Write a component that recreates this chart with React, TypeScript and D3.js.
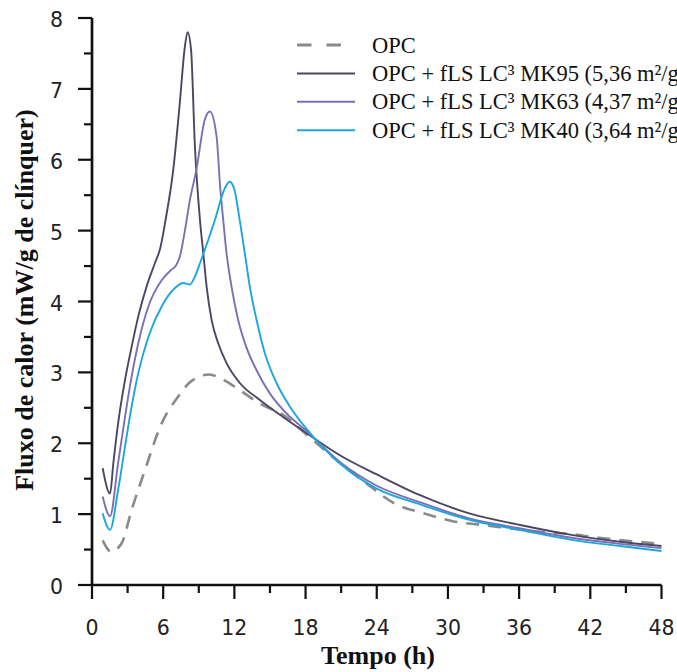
import React from "react";
import { scaleLinear, line, curveMonotoneX, range } from "d3";

// [time (h), heat flow (mW/g clinker)]
const opc = [
  [0.9, 0.63], [1.6, 0.47], [2.5, 0.59], [3.34, 1.06], [4.46, 1.62], [5.87, 2.28], [7.27, 2.66],
  [8.4, 2.88], [9.9, 2.97], [10.78, 2.92], [12.18, 2.78], [14.15, 2.56], [16.1, 2.4], [18.1, 2.12],
  [20.9, 1.72], [23, 1.45], [25.4, 1.16], [28.2, 1.0], [30.4, 0.9], [32.7, 0.85], [35.2, 0.8],
  [37.7, 0.75], [40.3, 0.72], [42.5, 0.67], [44.7, 0.63], [48, 0.58],
];
const mk95 = [
  [0.9, 1.65], [1.52, 1.29], [1.8, 1.72], [2.2, 2.28], [2.78, 2.89], [3.34, 3.36], [3.9, 3.79],
  [4.6, 4.21], [5.3, 4.54], [5.75, 4.75], [6.2, 5.15], [6.85, 5.86], [7.4, 6.8], [7.83, 7.6],
  [8.06, 7.8], [8.35, 7.55], [8.67, 6.2], [9.1, 5.15], [9.38, 4.68], [9.66, 4.21], [10.08, 3.74],
  [10.64, 3.41], [11.34, 3.13], [12.46, 2.85], [14.15, 2.61], [16.1, 2.37], [18.1, 2.14], [21, 1.82],
  [24, 1.56], [27.6, 1.27], [31.8, 1.01], [36, 0.85], [40.3, 0.71], [44.5, 0.61], [48, 0.55],
];
const mk63 = [
  [0.9, 1.25], [1.52, 0.97], [2.2, 1.72], [2.78, 2.37], [3.34, 2.94], [3.9, 3.41], [4.75, 3.93],
  [5.87, 4.3], [6.7, 4.45], [7.05, 4.5], [7.4, 4.63], [7.83, 5.0], [8.25, 5.43], [8.8, 5.86],
  [9.5, 6.56], [9.94, 6.68], [10.5, 6.33], [10.8, 5.62], [11.06, 5.15], [11.34, 4.68], [11.76, 4.21],
  [12.32, 3.74], [13.0, 3.36], [13.87, 3.03], [15.0, 2.7], [16.4, 2.42], [18.1, 2.17], [21, 1.72],
  [24, 1.4], [27.6, 1.17], [31.8, 0.94], [36, 0.8], [40.3, 0.67], [44.5, 0.58], [48, 0.52],
];
const mk40 = [
  [0.9, 1.01], [1.52, 0.78], [2.2, 1.34], [2.78, 1.95], [3.34, 2.52], [3.9, 2.99], [4.75, 3.5],
  [5.87, 3.93], [6.99, 4.19], [7.7, 4.26], [8.25, 4.24], [8.67, 4.35], [9.1, 4.54], [10.36, 5.15],
  [11.2, 5.6], [11.6, 5.69], [12.0, 5.58], [12.4, 5.2], [12.88, 4.68], [13.3, 4.21], [13.87, 3.74],
  [14.57, 3.27], [15.55, 2.85], [16.67, 2.52], [18.1, 2.2], [21, 1.7], [24, 1.36], [27.6, 1.14],
  [31.8, 0.92], [36, 0.78], [40.3, 0.64], [44.5, 0.55], [48, 0.48],
];

const seriesNames = [
  "OPC",
  "OPC + fLS LC³ MK95 (5,36 m²/g)",
  "OPC + fLS LC³ MK63 (4,37 m²/g)",
  "OPC + fLS LC³ MK40 (3,64 m²/g)",
];
const seriesData = [opc, mk95, mk63, mk40];
const colors = ["#8a8a8a", "#4a4763", "#7b70b6", "#1ca6dd"];

const xTicks = range(0, 49, 6);
const xMinor = range(3, 48, 6);
const yTicks = range(0, 9, 1);
const yMinor = range(0.5, 8, 1);

const serif = "Liberation Serif, Times New Roman, serif";
const sans = "DejaVu Sans, sans-serif";

function App() {
  const xscale = scaleLinear().domain([0, 48]).range([92, 661.5]);
  const yscale = scaleLinear().domain([0, 8]).range([585, 18]);
  const x0 = xscale(0);
  const y0 = yscale(0);

  const myLine = line()
    .x(d => xscale(d[0]))
    .y(d => yscale(d[1]))
    .curve(curveMonotoneX);

  return (
    <svg width={677} height={672}
      style={{ position: "absolute", left: 0, top: 0, background: "#fff" }}>
      {seriesData.map((d, i) => (
        <path key={i} d={myLine(d)} fill="none" stroke={colors[i]}
          strokeWidth={i === 0 ? 2.6 : 1.9} strokeDasharray={i === 0 ? "13,9" : undefined} />
      ))}

      {/* x axis */}
      <g stroke="#111" strokeWidth={2.2}>
        {xTicks.map(t => <line key={"xt" + t} x1={xscale(t)} x2={xscale(t)} y1={y0} y2={y0 + 14} />)}
        {xMinor.map(t => <line key={"xm" + t} x1={xscale(t)} x2={xscale(t)} y1={y0} y2={y0 + 8} />)}
        {yTicks.map(t => <line key={"yt" + t} x1={x0 - 14} x2={x0} y1={yscale(t)} y2={yscale(t)} />)}
        {yMinor.map(t => <line key={"ym" + t} x1={x0 - 8} x2={x0} y1={yscale(t)} y2={yscale(t)} />)}
      </g>
      <line x1={x0} x2={xscale(48)} y1={y0} y2={y0} stroke="#111" strokeWidth={2.7} />
      <line x1={x0} x2={x0} y1={yscale(8)} y2={y0} stroke="#111" strokeWidth={2.7} />

      <g fontFamily={sans} fontSize={20.5} fill="#222">
        {xTicks.map(t => (
          <text key={"xl" + t} x={xscale(t)} y={y0 + 50} textAnchor="middle">{t}</text>
        ))}
        {yTicks.map(t => (
          <text key={"yl" + t} x={x0 - 29} y={yscale(t) + 9} textAnchor="end">{t}</text>
        ))}
      </g>

      {/* legend */}
      {seriesNames.map((name, i) => (
        <g key={name} transform={`translate(297,${45 + i * 28.4})`}>
          <line x1={0} x2={i === 0 ? 45 : 58} stroke={colors[i]} strokeWidth={i === 0 ? 2.8 : 2}
            strokeDasharray={i === 0 ? "14.5,15" : undefined} />
          <text x={75} y={7.5} fontFamily={serif} fontSize={22.5} fill="#111">{name}</text>
        </g>
      ))}

      <text x={378} y={664} textAnchor="middle" fontFamily={serif}
        fontWeight="bold" fontSize={26} fill="#111">Tempo (h)</text>
      <text transform="translate(33,300) rotate(-90)" textAnchor="middle"
        fontFamily={serif} fontWeight="bold" fontSize={26} fill="#111">
        Fluxo de calor (mW/g de clínquer)
      </text>
    </svg>
  );
}

export default App;
